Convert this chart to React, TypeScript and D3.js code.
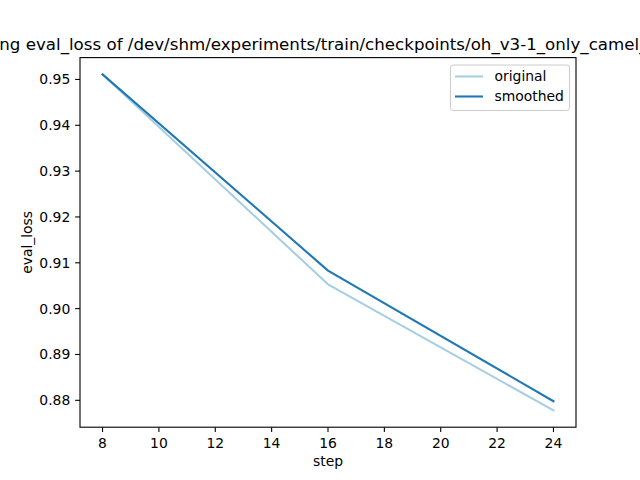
import React from "react";
import * as d3 from "d3";

const steps = [8, 16, 24];
const original = [0.9511, 0.9053, 0.8778];
const smoothed = [0.9511, 0.9083, 0.8798];
const xTicks = [8, 10, 12, 14, 16, 18, 20, 22, 24];
const yTicks = [0.88, 0.89, 0.9, 0.91, 0.92, 0.93, 0.94, 0.95];
const titleText = "Smoothing eval_loss of /dev/shm/experiments/train/checkpoints/oh_v3-1_only_camel_physics";
const seriesNames = ["original", "smoothed"];
const seriesColors = ["#a6cee3", "#1f78b4"];

const W = 640, H = 480;
const L = 80, R = 576, T = 57.6, B = 427.2;
const FONT = "DejaVu Sans, sans-serif";

export default function App() {
  const xMin = d3.min(steps)!, xMax = d3.max(steps)!;
  const xPad = (xMax - xMin) * 0.05;
  const all = [...original, ...smoothed];
  const yMin = d3.min(all)!, yMax = d3.max(all)!;
  const yPad = (yMax - yMin) * 0.05;
  const x = d3.scaleLinear().domain([xMin - xPad, xMax + xPad]).range([L, R]);
  const y = d3.scaleLinear().domain([yMin - yPad, yMax + yPad]).range([B, T]);
  const line = d3.line<number>().x((_, i) => x(steps[i])).y((d) => y(d));
  const series = [original, smoothed];

  return (
    <svg width={W} height={H} style={{ position: "absolute", left: 0, top: 0, background: "#fff" }} fontFamily={FONT}>
      <rect x={0} y={0} width={W} height={H} fill="#fff" />
      <text x={W / 2} y={T - 8} textAnchor="middle" fontSize={16.67} fill="#000">{titleText}</text>
      {series.map((s, i) => (
        <path key={i} d={line(s)!} fill="none" stroke={seriesColors[i]} strokeWidth={2.08} strokeLinecap="square" strokeLinejoin="round" />
      ))}
      <rect x={L} y={T} width={R - L} height={B - T} fill="none" stroke="#000" strokeWidth={1.1} />
      {xTicks.map((t) => (
        <g key={t}>
          <line x1={x(t)} x2={x(t)} y1={B} y2={B + 4.86} stroke="#000" strokeWidth={1.1} />
          <text x={x(t)} y={B + 9.7 + 11} textAnchor="middle" fontSize={13.9} fill="#000">{t}</text>
        </g>
      ))}
      {yTicks.map((t) => (
        <g key={t}>
          <line x1={L - 4.86} x2={L} y1={y(t)} y2={y(t)} stroke="#000" strokeWidth={1.1} />
          <text x={L - 9.7} y={y(t)} dy="0.35em" textAnchor="end" fontSize={13.9} fill="#000">{t.toFixed(2)}</text>
        </g>
      ))}
      <text x={(L + R) / 2} y={466} textAnchor="middle" fontSize={13.9} fill="#000">step</text>
      <text transform={`translate(32,${(T + B) / 2}) rotate(-90)`} textAnchor="middle" fontSize={13.9} fill="#000">eval_loss</text>
      <g>
        <rect x={450.5} y={65} width={119} height={45.5} rx={2.8} fill="#fff" fillOpacity={0.8} stroke="#cccccc" strokeWidth={1} />
        {seriesNames.map((n, i) => (
          <g key={n}>
            <line x1={455} x2={483} y1={76.5 + i * 20} y2={76.5 + i * 20} stroke={seriesColors[i]} strokeWidth={2.08} />
            <text x={494.5} y={76.5 + i * 20} dy="0.35em" fontSize={13.9} fill="#000">{n}</text>
          </g>
        ))}
      </g>
    </svg>
  );
}
